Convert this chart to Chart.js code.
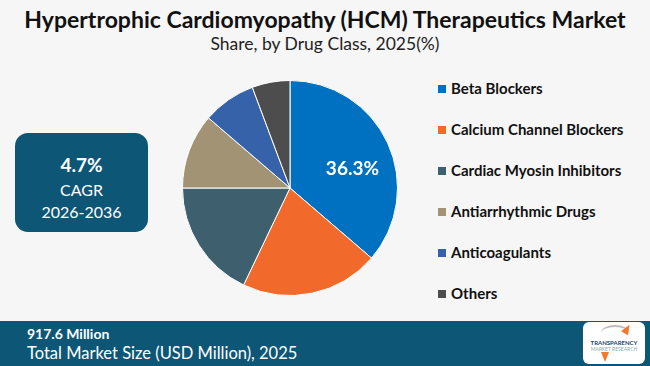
<!DOCTYPE html>
<html>
<head>
<meta charset="utf-8">
<script src="https://cdn.jsdelivr.net/npm/chart.js@4"></script>
<style>
  html, body { margin: 0; padding: 0; }
  body { width: 650px; height: 366px; background: #f6f6f6; position: relative; overflow: hidden; font-family: Lato, "Open Sans", sans-serif; }
  .title { position: absolute; left: 0; width: 650px; top: 5px; text-align: center; font-weight: 700; font-size: 23px; color: #111; }
  .subtitle { position: absolute; left: 0; width: 650px; top: 33px; text-align: center; font-size: 17.5px; color: #222; }
  .cagr-box { position: absolute; left: 15px; top: 133px; width: 133px; height: 99px; background: #0d5676; border-radius: 13px; color: #fff; text-align: center; }
  .cagr-box .v { position: absolute; top: 20px; width: 100%; font-weight: 700; font-size: 19px; }
  .cagr-box .l1 { position: absolute; top: 47px; width: 100%; font-size: 16px; }
  .cagr-box .l2 { position: absolute; top: 69px; width: 100%; font-size: 16px; }
  #pie-wrap { position: absolute; left: 182px; top: 80px; width: 216px; height: 216px; }
  .legend { position: absolute; left: 438px; top: 79px; }
  .legend-item { height: 41px; display: flex; align-items: flex-start; font-weight: 700; font-size: 15px; color: #111; }
  .legend-item .sw { width: 8px; height: 8px; margin: 6px 5px 0 0; }
  .band { position: absolute; left: 0; top: 321px; width: 650px; height: 45px; background: #0d5676; color: #fff; }
  .band .v { position: absolute; left: 27px; top: 4px; font-weight: 700; font-size: 14px; }
  .band .l { position: absolute; left: 27px; top: 22px; font-size: 16.5px; }
  .logo { position: absolute; left: 583px; top: 322px; width: 62px; height: 42px; background: #fff; border-radius: 6px; text-align: center; }
  .logo .t1 { position: absolute; top: 17px; width: 100%; font-size: 6px; font-weight: 700; color: #1d3f6e; }
  .logo .t2 { position: absolute; top: 24px; width: 100%; font-size: 5px; color: #8aa; }
  .logo .arc { position: absolute; left: 18px; top: 3px; width: 28px; height: 14px; border-top: 2px solid #bbb; border-radius: 50% 50% 0 0; }
  .logo .up { position: absolute; left: 40px; top: 2px; width: 0; height: 0; border-left: 4px solid transparent; border-right: 4px solid transparent; border-bottom: 10px solid #f07a2a; transform: rotate(30deg); }
  .logo .down { position: absolute; left: 18px; top: 30px; width: 0; height: 0; border-left: 4px solid transparent; border-right: 4px solid transparent; border-top: 10px solid #f07a2a; }
</style>
</head>
<body>
<div class="title">Hypertrophic Cardiomyopathy (HCM) Therapeutics Market</div>
<div class="subtitle">Share, by Drug Class, 2025(%)</div>

<div class="cagr-box">
  <div class="v" id="cagr-value"></div>
  <div class="l1">CAGR</div>
  <div class="l2" id="cagr-period"></div>
</div>

<div id="pie-wrap"><canvas id="pie"></canvas></div>
<div class="legend" id="legend"></div>

<div class="band">
  <div class="v" id="market-size"></div>
  <div class="l">Total Market Size (USD Million), 2025</div>
</div>
<div class="logo">
  <div class="arc"></div><div class="up"></div>
  <div class="t1">TRANSPARENCY</div>
  <div class="t2">MARKET RESEARCH</div>
  <div class="down"></div>
</div>

<script>
var categories = ['Beta Blockers', 'Calcium Channel Blockers', 'Cardiac Myosin Inhibitors', 'Antiarrhythmic Drugs', 'Anticoagulants', 'Others'];
var shares = [36.3, 20.8, 17.9, 11.3, 8.0, 5.7];
var colors = ['#0070c0', '#f26a2b', '#3e5f6e', '#a39375', '#3562a8', '#4d4d4d'];
var labelledIndex = 0;
var cagrValue = '4.7%';
var cagrPeriod = '2026-2036';
var marketSize = '917.6 Million';

document.getElementById('cagr-value').textContent = cagrValue;
document.getElementById('cagr-period').textContent = cagrPeriod;
document.getElementById('market-size').textContent = marketSize;

var legend = document.getElementById('legend');
categories.forEach(function (name, i) {
  var item = document.createElement('div');
  item.className = 'legend-item';
  var sw = document.createElement('span');
  sw.className = 'sw';
  sw.style.background = colors[i];
  var txt = document.createElement('span');
  txt.textContent = name;
  item.appendChild(sw);
  item.appendChild(txt);
  legend.appendChild(item);
});

// value label on the biggest slice only
var sliceLabel = {
  id: 'sliceLabel',
  afterDatasetsDraw: function (chart) {
    var arc = chart.getDatasetMeta(0).data[labelledIndex];
    if (!arc) return;
    var p = arc.getProps(['x', 'y', 'startAngle', 'endAngle', 'outerRadius'], true);
    var mid = (p.startAngle + p.endAngle) / 2 + 0.12;
    var r = p.outerRadius * 0.61;
    var ctx = chart.ctx;
    ctx.save();
    ctx.fillStyle = '#fff';
    ctx.font = '700 19px Lato, sans-serif';
    ctx.textAlign = 'center';
    ctx.textBaseline = 'middle';
    ctx.fillText(shares[labelledIndex].toFixed(1) + '%', p.x + Math.cos(mid) * r, p.y + Math.sin(mid) * r + 1);
    ctx.restore();
  }
};

new Chart(document.getElementById('pie').getContext('2d'), {
  type: 'pie',
  data: {
    labels: categories,
    datasets: [{
      data: shares,
      backgroundColor: colors,
      borderColor: '#ffffff',
      borderWidth: 1
    }]
  },
  options: {
    responsive: true,
    maintainAspectRatio: false,
    animation: false,
    layout: { padding: 0 },
    plugins: {
      legend: { display: false },
      tooltip: { enabled: false }
    }
  },
  plugins: [sliceLabel]
});
</script>
</body>
</html>
